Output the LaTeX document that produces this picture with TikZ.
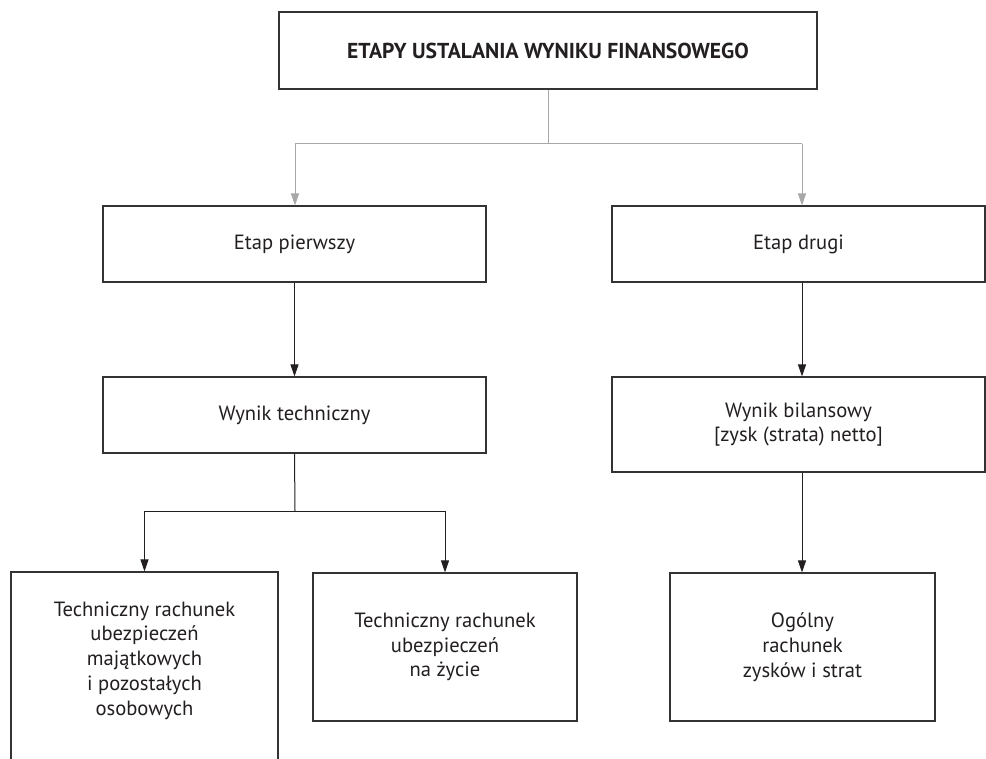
\documentclass[tikz,border=0pt]{standalone}
\usepackage{fontspec}
\setmainfont{PT Sans}
\usetikzlibrary{arrows.meta}
\definecolor{inkc}{HTML}{231F20}
\definecolor{framec}{HTML}{333333}
\definecolor{greyc}{HTML}{A8A8A8}
\tikzset{
  boxnode/.style={draw=framec, line width=1.1pt, fill=white, text=inkc, align=center,
    inner sep=0pt, font=\fontsize{20.6}{24.8}\selectfont},
  titlebox/.style={boxnode, font=\fontsize{21.6}{25}\selectfont\bfseries},
  gline/.style={draw=greyc, line width=1pt},
  garrow/.style={gline, -{Triangle[length=12pt,width=8pt]}},
  bline/.style={draw=inkc, line width=1pt},
  barrow/.style={bline, -{Triangle[length=12pt,width=8pt]}}
}
\begin{document}
\begin{tikzpicture}[x=1pt,y=-1pt]
\useasboundingbox (0,0) rectangle (986,759);
% boxes
\node[titlebox, minimum width=538pt, minimum height=77pt] (top) at (548,50.5) {ETAPY USTALANIA WYNIKU FINANSOWEGO};
\node[boxnode, minimum width=383pt, minimum height=76pt] (ep1) at (294.5,244) {Etap pierwszy};
\node[boxnode, minimum width=373pt, minimum height=76pt] (ep2) at (798.5,244) {Etap drugi};
\node[boxnode, minimum width=383pt, minimum height=76pt] (wt) at (294.5,415) {Wynik techniczny};
\node[boxnode, minimum width=373pt, minimum height=95pt] (wb) at (798.5,424.5) {Wynik bilansowy\\{}[zysk (strata) netto]};
\node[boxnode, minimum width=267pt, minimum height=228pt] (b1) at (144.5,686) {\raisebox{20pt}[0pt][0pt]{\begin{tabular}{@{}c@{}}Techniczny rachunek\\ubezpieczeń\\majątkowych\\i pozostałych\\osobowych\end{tabular}}};
\node[boxnode, minimum width=264pt, minimum height=148pt] (b2) at (445,647) {Techniczny rachunek\\ubezpieczeń\\na życie};
\node[boxnode, minimum width=265pt, minimum height=148pt] (b3) at (802.5,647) {Ogólny\\rachunek\\zysków i strat};
% junctions
\coordinate (j0) at (548,144);
\coordinate (jl) at (295,144);
\coordinate (jr) at (802,144);
\coordinate (jt) at (295,511);
\coordinate (jtl) at (144.5,511);
\coordinate (jtr) at (445,511);
% grey connectors
\draw[gline] (top.south) -- (j0);
\draw[gline] (jl) -- (jr);
\draw[garrow] (jl) -- (jl |- ep1.north);
\draw[garrow] (jr) -- (jr |- ep2.north);
% black connectors
\draw[barrow] (ep1.south) -- (wt.north);
\draw[barrow] (ep2.south -| jr) -- (wb.north -| jr);
\draw[barrow] (wb.south -| jr) -- (b3.north -| jr);
\draw[bline] (wt.south) -- (jt);
\draw[bline] (jtl) -- (jtr);
\draw[barrow] (jtl) -- (b1.north);
\draw[barrow] (jtr) -- (b2.north);
\end{tikzpicture}
\end{document}
